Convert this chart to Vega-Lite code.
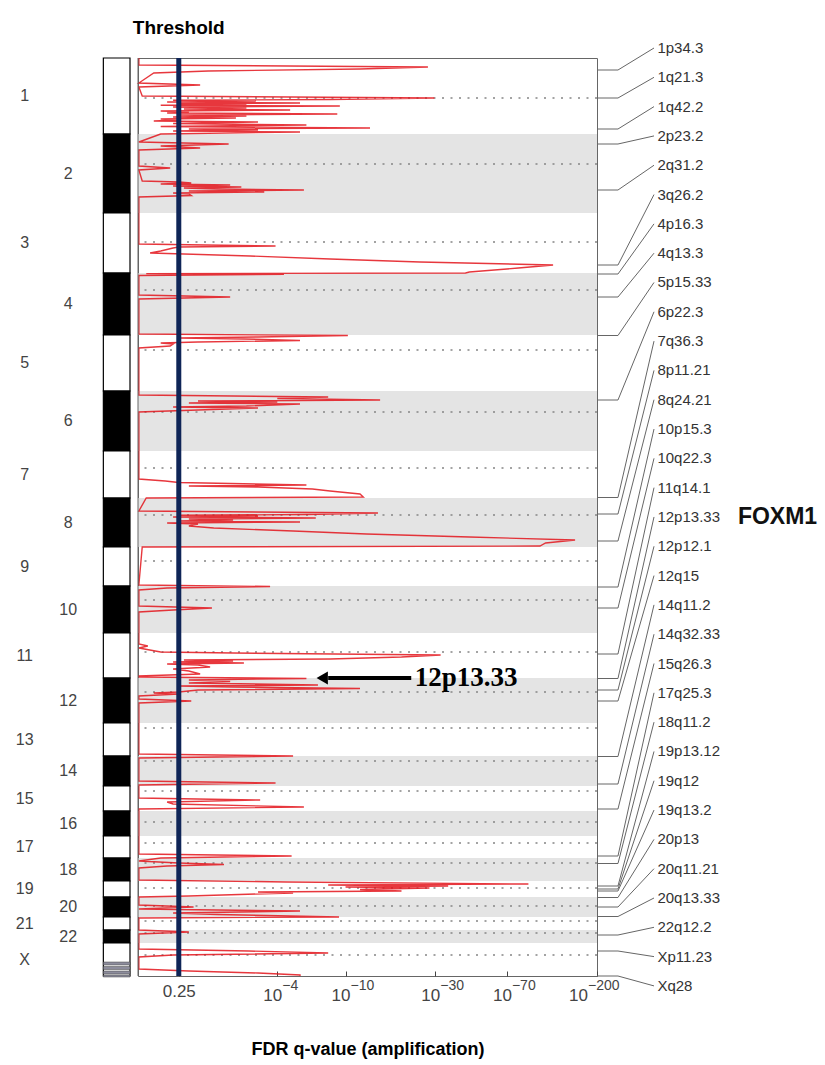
{
  "$schema": "https://vega.github.io/schema/vega-lite/v6.json",
  "padding": {"left": 0, "top": 18, "right": 0, "bottom": 0},
  "config": {"view": {"stroke": null}, "font": "Liberation Sans"},
  "datasets": {
    "chroms": [
      {"chr": "1", "idx": 1, "start": 0, "end": 76, "cen": 40},
      {"chr": "2", "idx": 2, "start": 76, "end": 155, "cen": 106},
      {"chr": "3", "idx": 3, "start": 155, "end": 215, "cen": 184},
      {"chr": "4", "idx": 4, "start": 215, "end": 277, "cen": 232},
      {"chr": "5", "idx": 5, "start": 277, "end": 333, "cen": 292},
      {"chr": "6", "idx": 6, "start": 333, "end": 393, "cen": 354},
      {"chr": "7", "idx": 7, "start": 393, "end": 440, "cen": 410},
      {"chr": "8", "idx": 8, "start": 440, "end": 489, "cen": 457},
      {"chr": "9", "idx": 9, "start": 489, "end": 528, "cen": 503},
      {"chr": "10", "idx": 10, "start": 528, "end": 575, "cen": 542},
      {"chr": "11", "idx": 11, "start": 575, "end": 620, "cen": 594},
      {"chr": "12", "idx": 12, "start": 620, "end": 665, "cen": 634},
      {"chr": "13", "idx": 13, "start": 665, "end": 698, "cen": 670},
      {"chr": "14", "idx": 14, "start": 698, "end": 728, "cen": 703},
      {"chr": "15", "idx": 15, "start": 728, "end": 753, "cen": 733},
      {"chr": "16", "idx": 16, "start": 753, "end": 778, "cen": 764},
      {"chr": "17", "idx": 17, "start": 778, "end": 800, "cen": 785},
      {"chr": "18", "idx": 18, "start": 800, "end": 823, "cen": 805},
      {"chr": "19", "idx": 19, "start": 823, "end": 839, "cen": 830},
      {"chr": "20", "idx": 20, "start": 839, "end": 859, "cen": 848},
      {"chr": "21", "idx": 21, "start": 859, "end": 872, "cen": 863},
      {"chr": "22", "idx": 22, "start": 872, "end": 885, "cen": 875},
      {"chr": "X", "idx": 23, "start": 885, "end": 918, "cen": 897}
    ],
    "xstripes": [
      {"s": 904, "e": 907}, {"s": 908.5, "e": 911.5}, {"s": 913, "e": 916}, {"s": 917, "e": 919}
    ],
    "powers": [
      {"v": 4, "exp": "\u22124"},
      {"v": 10, "exp": "\u221210"},
      {"v": 30, "exp": "\u221230"},
      {"v": 70, "exp": "\u221270"},
      {"v": 200, "exp": "\u2212200"}
    ],
    "peaks": [
      {"peak": "1p34.3", "gpos": 12},
      {"peak": "1q21.3", "gpos": 40},
      {"peak": "1q42.2", "gpos": 71},
      {"peak": "2p23.2", "gpos": 86},
      {"peak": "2q31.2", "gpos": 132},
      {"peak": "3q26.2", "gpos": 207},
      {"peak": "4p16.3", "gpos": 216},
      {"peak": "4q13.3", "gpos": 239},
      {"peak": "5p15.33", "gpos": 277.5},
      {"peak": "6p22.3", "gpos": 342},
      {"peak": "7q36.3", "gpos": 439.5},
      {"peak": "8p11.21", "gpos": 456},
      {"peak": "8q24.21", "gpos": 483},
      {"peak": "10p15.3", "gpos": 529},
      {"peak": "10q22.3", "gpos": 550},
      {"peak": "11q14.1", "gpos": 596},
      {"peak": "12p13.33", "gpos": 620.5, "gene": "FOXM1"},
      {"peak": "12p12.1", "gpos": 632},
      {"peak": "12q15", "gpos": 643},
      {"peak": "14q11.2", "gpos": 698.5},
      {"peak": "14q32.33", "gpos": 726},
      {"peak": "15q26.3", "gpos": 751},
      {"peak": "17q25.3", "gpos": 798},
      {"peak": "18q11.2", "gpos": 805.5},
      {"peak": "19p13.12", "gpos": 828},
      {"peak": "19q12", "gpos": 831},
      {"peak": "19q13.2", "gpos": 833},
      {"peak": "20p13", "gpos": 839.5},
      {"peak": "20q11.21", "gpos": 849},
      {"peak": "20q13.33", "gpos": 858.5},
      {"peak": "22q12.2", "gpos": 877},
      {"peak": "Xp11.23", "gpos": 893},
      {"peak": "Xq28", "gpos": 918}
    ],
    "trace": [
      {"gpos": 0, "q": 0.01},
      {"gpos": 7, "q": 0.01}, {"gpos": 9, "q": 27.5}, {"gpos": 11, "q": 12}, {"gpos": 13, "q": 1.25}, {"gpos": 15, "q": 0.2},
      {"gpos": 25, "q": 0.01}, {"gpos": 27, "q": 1.05}, {"gpos": 29, "q": 0.01},
      {"gpos": 38, "q": 0.05}, {"gpos": 40, "q": 29.7}, {"gpos": 41.5, "q": 8.2}, {"gpos": 42.2, "q": 0.5}, {"gpos": 43, "q": 2.9}, {"gpos": 44, "q": 0.4}, {"gpos": 45, "q": 5.5}, {"gpos": 45.8, "q": 0.6}, {"gpos": 46.5, "q": 2.5}, {"gpos": 47.2, "q": 0.3}, {"gpos": 48, "q": 9.3}, {"gpos": 49, "q": 0.5}, {"gpos": 50, "q": 2.5}, {"gpos": 51, "q": 0.7}, {"gpos": 52, "q": 4.8}, {"gpos": 53, "q": 0.3}, {"gpos": 54, "q": 0.8}, {"gpos": 55, "q": 0.4}, {"gpos": 56, "q": 9.0}, {"gpos": 57, "q": 0.6}, {"gpos": 58, "q": 2.5}, {"gpos": 59, "q": 0.5}, {"gpos": 60, "q": 2.1}, {"gpos": 61, "q": 0.3}, {"gpos": 62, "q": 0.6}, {"gpos": 63, "q": 0.2}, {"gpos": 64, "q": 3.0}, {"gpos": 65.5, "q": 0.5}, {"gpos": 67, "q": 6.0}, {"gpos": 68.5, "q": 0.3}, {"gpos": 70, "q": 13.6}, {"gpos": 71, "q": 0.8}, {"gpos": 72, "q": 3.0}, {"gpos": 73, "q": 0.5}, {"gpos": 74, "q": 5.5}, {"gpos": 76, "q": 0.3},
      {"gpos": 84, "q": 0.01}, {"gpos": 86, "q": 1.85}, {"gpos": 88, "q": 0.3}, {"gpos": 90, "q": 1.05}, {"gpos": 92, "q": 0.01},
      {"gpos": 108, "q": 0.01}, {"gpos": 110, "q": 0.45}, {"gpos": 112, "q": 0.01},
      {"gpos": 123, "q": 0.05}, {"gpos": 124, "q": 0.6}, {"gpos": 125, "q": 0.85}, {"gpos": 126, "q": 0.3}, {"gpos": 127, "q": 1.9}, {"gpos": 128, "q": 0.5}, {"gpos": 129, "q": 2.3}, {"gpos": 130, "q": 0.7}, {"gpos": 131, "q": 1.5}, {"gpos": 132, "q": 5.8}, {"gpos": 133, "q": 0.8}, {"gpos": 134, "q": 3.3}, {"gpos": 135, "q": 0.5}, {"gpos": 136, "q": 0.8}, {"gpos": 137.5, "q": 0.85}, {"gpos": 139, "q": 0.01},
      {"gpos": 186, "q": 0.01}, {"gpos": 188, "q": 3.9}, {"gpos": 189, "q": 0.6}, {"gpos": 190, "q": 0.5}, {"gpos": 193, "q": 0.3}, {"gpos": 195, "q": 0.15}, {"gpos": 198, "q": 2.65}, {"gpos": 201, "q": 8.2}, {"gpos": 204, "q": 25}, {"gpos": 207, "q": 120}, {"gpos": 210, "q": 80}, {"gpos": 214, "q": 45}, {"gpos": 215, "q": 43},
      {"gpos": 215.6, "q": 0.1}, {"gpos": 216.2, "q": 4.4}, {"gpos": 217.5, "q": 0.01},
      {"gpos": 237, "q": 0.01}, {"gpos": 239, "q": 1.9}, {"gpos": 241, "q": 0.01},
      {"gpos": 276, "q": 0.01}, {"gpos": 277.5, "q": 10.3}, {"gpos": 279, "q": 3.0}, {"gpos": 280, "q": 0.6}, {"gpos": 281, "q": 2.4}, {"gpos": 282.5, "q": 5.5}, {"gpos": 284, "q": 1.0}, {"gpos": 285, "q": 0.3}, {"gpos": 286, "q": 0.5}, {"gpos": 288, "q": 0.45}, {"gpos": 290, "q": 0.01},
      {"gpos": 337, "q": 0.01}, {"gpos": 339, "q": 8.0}, {"gpos": 340.5, "q": 4.0}, {"gpos": 342, "q": 15.4}, {"gpos": 343, "q": 1.0}, {"gpos": 344, "q": 4.0}, {"gpos": 345, "q": 0.8}, {"gpos": 346, "q": 5.5}, {"gpos": 348, "q": 2.5}, {"gpos": 349, "q": 0.5}, {"gpos": 350, "q": 3.0}, {"gpos": 352, "q": 1.0}, {"gpos": 354, "q": 0.01},
      {"gpos": 421, "q": 0.01}, {"gpos": 423, "q": 0.37}, {"gpos": 424.5, "q": 0.6}, {"gpos": 427, "q": 6.0}, {"gpos": 428, "q": 0.8}, {"gpos": 429, "q": 3.0}, {"gpos": 431, "q": 6.5}, {"gpos": 433, "q": 8.2}, {"gpos": 436, "q": 12}, {"gpos": 439, "q": 12.5}, {"gpos": 440, "q": 0.1},
      {"gpos": 453, "q": 0.01}, {"gpos": 455, "q": 15.0}, {"gpos": 456.5, "q": 6.0}, {"gpos": 457.3, "q": 0.6}, {"gpos": 458, "q": 3.0}, {"gpos": 459, "q": 0.5}, {"gpos": 460, "q": 6.8}, {"gpos": 461, "q": 0.8}, {"gpos": 462, "q": 2.0}, {"gpos": 463, "q": 0.6}, {"gpos": 464, "q": 5.5}, {"gpos": 465, "q": 0.4}, {"gpos": 466, "q": 1.0}, {"gpos": 468, "q": 0.8}, {"gpos": 470, "q": 1.4}, {"gpos": 473, "q": 5.0}, {"gpos": 476, "q": 13}, {"gpos": 479, "q": 45}, {"gpos": 482, "q": 155}, {"gpos": 485, "q": 110}, {"gpos": 488, "q": 103}, {"gpos": 489, "q": 0.05},
      {"gpos": 527, "q": 0.01}, {"gpos": 528.5, "q": 3.6}, {"gpos": 530, "q": 0.4}, {"gpos": 532, "q": 0.01},
      {"gpos": 548, "q": 0.01}, {"gpos": 550, "q": 1.35}, {"gpos": 552, "q": 0.5}, {"gpos": 554, "q": 0.01},
      {"gpos": 586, "q": 0.01}, {"gpos": 588, "q": 0.12}, {"gpos": 590, "q": 0.01}, {"gpos": 594, "q": 0.3}, {"gpos": 595, "q": 2.0}, {"gpos": 597, "q": 32}, {"gpos": 599, "q": 20}, {"gpos": 601, "q": 8.2}, {"gpos": 602, "q": 0.7}, {"gpos": 603, "q": 2.0}, {"gpos": 604, "q": 0.5}, {"gpos": 605, "q": 2.4}, {"gpos": 606, "q": 0.4}, {"gpos": 607, "q": 1.0}, {"gpos": 609, "q": 1.3}, {"gpos": 611, "q": 0.5}, {"gpos": 613, "q": 0.8}, {"gpos": 616, "q": 1.05}, {"gpos": 618, "q": 0.01},
      {"gpos": 619, "q": 0.01}, {"gpos": 620.5, "q": 6.0}, {"gpos": 622, "q": 0.8}, {"gpos": 623.5, "q": 1.9}, {"gpos": 625, "q": 0.8}, {"gpos": 627, "q": 7.0}, {"gpos": 628, "q": 0.6}, {"gpos": 629, "q": 2.0}, {"gpos": 630.5, "q": 12}, {"gpos": 632, "q": 1.0}, {"gpos": 634, "q": 0.6}, {"gpos": 635, "q": 0.2}, {"gpos": 636, "q": 0.6}, {"gpos": 638, "q": 0.01}, {"gpos": 641, "q": 0.01}, {"gpos": 643, "q": 0.85}, {"gpos": 645, "q": 0.01},
      {"gpos": 696, "q": 0.01}, {"gpos": 698, "q": 5.0}, {"gpos": 700, "q": 0.01}, {"gpos": 723, "q": 0.01}, {"gpos": 725, "q": 3.9}, {"gpos": 727, "q": 0.01},
      {"gpos": 740, "q": 0.01}, {"gpos": 742, "q": 3.1}, {"gpos": 744, "q": 0.4}, {"gpos": 746, "q": 0.5}, {"gpos": 749, "q": 5.8}, {"gpos": 751, "q": 0.01},
      {"gpos": 796, "q": 0.01}, {"gpos": 798, "q": 4.9}, {"gpos": 800, "q": 0.3},
      {"gpos": 803, "q": 0.01}, {"gpos": 805, "q": 0.6}, {"gpos": 806.5, "q": 1.7}, {"gpos": 808, "q": 0.4}, {"gpos": 810, "q": 0.01},
      {"gpos": 822, "q": 0.01}, {"gpos": 824, "q": 4.6}, {"gpos": 826, "q": 90}, {"gpos": 827, "q": 8}, {"gpos": 828, "q": 35}, {"gpos": 829, "q": 10}, {"gpos": 830, "q": 28}, {"gpos": 831.5, "q": 12}, {"gpos": 833, "q": 20}, {"gpos": 834, "q": 3}, {"gpos": 835, "q": 5.0}, {"gpos": 838, "q": 0.8}, {"gpos": 839, "q": 0.01},
      {"gpos": 847, "q": 0.01}, {"gpos": 849, "q": 0.9}, {"gpos": 851, "q": 0.01}, {"gpos": 853, "q": 5.5}, {"gpos": 855, "q": 0.5}, {"gpos": 856.5, "q": 1.5}, {"gpos": 859, "q": 9.2}, {"gpos": 860, "q": 0.01},
      {"gpos": 872, "q": 0.01}, {"gpos": 874, "q": 0.8}, {"gpos": 876, "q": 0.01},
      {"gpos": 891, "q": 0.01}, {"gpos": 893, "q": 2.6}, {"gpos": 895, "q": 8.0}, {"gpos": 897, "q": 0.5}, {"gpos": 899, "q": 0.01},
      {"gpos": 911, "q": 0.01}, {"gpos": 913, "q": 0.8}, {"gpos": 915, "q": 3.0}, {"gpos": 917, "q": 5.5}, {"gpos": 918, "q": 5.5}
    ]
  },
  "hconcat": [
    {
      "width": 130,
      "height": 918,
      "layer": [
        {
          "data": {"name": "chroms"},
          "mark": {"type": "rect", "stroke": "#000", "strokeWidth": 1.2},
          "encoding": {
            "x": {"datum": 0.795, "type": "quantitative", "scale": {"domain": [0, 1], "nice": false, "zero": false}, "axis": null},
            "x2": {"datum": 1},
            "y": {"field": "start", "type": "quantitative", "scale": {"domain": [0, 918], "reverse": true, "nice": false, "zero": false}, "axis": null},
            "y2": {"field": "end"},
            "fill": {"condition": {"test": "datum.idx % 2 == 0", "value": "#000"}, "value": "#fff"}
          }
        },
        {
          "data": {"name": "xstripes"},
          "mark": {"type": "rect", "fill": "#8c8c9c", "stroke": "#444", "strokeWidth": 0.5},
          "encoding": {
            "x": {"datum": 0.795, "type": "quantitative"},
            "x2": {"datum": 1},
            "y": {"field": "s", "type": "quantitative"},
            "y2": {"field": "e"}
          }
        },
        {
          "data": {"name": "chroms"},
          "transform": [
            {"calculate": "(datum.start + datum.end) / 2", "as": "mid"},
            {"calculate": "datum.idx % 2 == 0 ? 0.525 : 0.19", "as": "col"}
          ],
          "mark": {"type": "text", "fontSize": 16, "color": "#444", "align": "center", "baseline": "middle"},
          "encoding": {
            "x": {"field": "col", "type": "quantitative"},
            "y": {"field": "mid", "type": "quantitative"},
            "text": {"field": "chr"}
          }
        }
      ]
    },
    {
      "hconcat": [
        {
          "width": 459,
          "height": 918,
          "view": {"stroke": "#666", "strokeWidth": 1},
          "layer": [
            {
              "data": {"name": "chroms"},
              "transform": [{"filter": "datum.idx % 2 == 0"}],
              "mark": {"type": "rect", "fill": "#e4e4e4"},
              "encoding": {
                "x": {"datum": 0, "type": "quantitative"},
                "x2": {"datum": 200},
                "y": {"field": "start", "type": "quantitative", "scale": {"domain": [0, 918], "reverse": true, "nice": false, "zero": false}, "axis": null},
                "y2": {"field": "end"}
              }
            },
            {
              "data": {"name": "chroms"},
              "mark": {"type": "rule", "color": "#858585", "strokeDash": [2, 6.5], "strokeWidth": 1.7},
              "encoding": {"y": {"field": "cen", "type": "quantitative"}}
            },
            {
              "data": {"name": "trace"},
              "mark": {"type": "line", "color": "#e3141b", "strokeWidth": 1.4, "opacity": 0.85},
              "encoding": {
                "x": {
                  "field": "q", "type": "quantitative",
                  "scale": {"type": "symlog", "constant": 1, "domain": [0, 200], "nice": false, "zero": false},
                  "axis": {
                    "values": [0.602, 4, 10, 30, 70, 200],
                    "labelExpr": "datum.value < 1 ? '0.25' : ''",
                    "title": "FDR q-value (amplification)",
                    "titleFontSize": 18, "titleFontWeight": "bold", "titleColor": "#000", "titlePadding": 41,
                    "labelFontSize": 17, "labelColor": "#444", "labelPadding": 12, "labelFlush": false, "labelOverlap": false,
                    "grid": false, "domain": false, "tickSize": -5, "tickColor": "#444"
                  }
                },
                "y": {"field": "gpos", "type": "quantitative"},
                "order": {"field": "gpos"}
              }
            },
            {
              "data": {"values": [{}]},
              "mark": {"type": "rule", "color": "#666", "strokeWidth": 1},
              "encoding": {"x": {"datum": 0, "type": "quantitative"}}
            },
            {
              "data": {"values": [{}]},
              "mark": {"type": "rule", "color": "#0f2557", "strokeWidth": 5},
              "encoding": {"x": {"datum": 0.602, "type": "quantitative"}}
            },
            {
              "data": {"values": [{}]},
              "mark": {"type": "text", "text": "Threshold", "fontWeight": "bold", "fontSize": 19, "color": "#000", "baseline": "middle"},
              "encoding": {"x": {"datum": 0.602, "type": "quantitative"}, "y": {"datum": -30, "type": "quantitative"}}
            },
            {
              "data": {"name": "powers"},
              "transform": [{"filter": "datum.v < 200"}],
              "mark": {"type": "text", "text": "10", "fontSize": 17, "color": "#444", "align": "right", "baseline": "middle", "dx": 5, "dy": 20},
              "encoding": {"x": {"field": "v", "type": "quantitative"}, "y": {"datum": 918, "type": "quantitative"}}
            },
            {
              "data": {"name": "powers"},
              "transform": [{"filter": "datum.v < 200"}],
              "mark": {"type": "text", "fontSize": 14, "color": "#444", "align": "left", "baseline": "middle", "dx": 5, "dy": 10},
              "encoding": {"x": {"field": "v", "type": "quantitative"}, "y": {"datum": 918, "type": "quantitative"}, "text": {"field": "exp"}}
            },
            {
              "data": {"name": "powers"},
              "transform": [{"filter": "datum.v == 200"}],
              "mark": {"type": "text", "text": "10", "fontSize": 17, "color": "#444", "align": "right", "baseline": "middle", "dx": -9, "dy": 20},
              "encoding": {"x": {"field": "v", "type": "quantitative"}, "y": {"datum": 918, "type": "quantitative"}}
            },
            {
              "data": {"name": "powers"},
              "transform": [{"filter": "datum.v == 200"}],
              "mark": {"type": "text", "fontSize": 14, "color": "#444", "align": "left", "baseline": "middle", "dx": -9, "dy": 10},
              "encoding": {"x": {"field": "v", "type": "quantitative"}, "y": {"datum": 918, "type": "quantitative"}, "text": {"field": "exp"}}
            },
            {
              "data": {"values": [{}]},
              "mark": {"type": "rule", "color": "#000", "strokeWidth": 4},
              "encoding": {"x": {"datum": 8, "type": "quantitative"}, "x2": {"datum": 22.5}, "y": {"datum": 620, "type": "quantitative"}}
            },
            {
              "data": {"values": [{}]},
              "mark": {"type": "point", "shape": "triangle-left", "filled": true, "size": 170, "color": "#000", "opacity": 1},
              "encoding": {"x": {"datum": 7.4, "type": "quantitative"}, "y": {"datum": 620, "type": "quantitative"}}
            },
            {
              "data": {"values": [{}]},
              "mark": {"type": "text", "text": "12p13.33", "font": "Liberation Serif", "fontWeight": "bold", "fontSize": 27, "color": "#000", "align": "left", "baseline": "middle"},
              "encoding": {"x": {"datum": 23.5, "type": "quantitative"}, "y": {"datum": 620, "type": "quantitative"}}
            }
          ]
        },
        {
          "width": 228,
          "height": 918,
          "data": {"name": "peaks"},
          "transform": [
            {"window": [{"op": "row_number", "as": "rank"}]},
            {"calculate": "-10 + 29.31 * (datum.rank - 1)", "as": "labelpos"}
          ],
          "layer": [
            {
              "mark": {"type": "rule", "color": "#666", "strokeWidth": 1},
              "encoding": {
                "x": {"datum": 0, "type": "quantitative", "scale": {"domain": [0, 1], "nice": false, "zero": false}, "axis": null},
                "x2": {"datum": 0.092},
                "y": {"field": "gpos", "type": "quantitative", "scale": {"domain": [0, 918], "reverse": true, "nice": false, "zero": false}, "axis": null}
              }
            },
            {
              "mark": {"type": "rule", "color": "#666", "strokeWidth": 1},
              "encoding": {
                "x": {"datum": 0.092, "type": "quantitative"},
                "x2": {"datum": 0.25},
                "y": {"field": "gpos", "type": "quantitative"},
                "y2": {"field": "labelpos"}
              }
            },
            {
              "mark": {"type": "text", "align": "left", "baseline": "middle", "fontSize": 15, "color": "#333"},
              "encoding": {
                "x": {"datum": 0.265, "type": "quantitative"},
                "y": {"field": "labelpos", "type": "quantitative"},
                "text": {"field": "peak"}
              }
            },
            {
              "transform": [{"filter": "datum.gene"}],
              "mark": {"type": "text", "align": "left", "baseline": "middle", "fontSize": 23, "fontWeight": "bold", "color": "#111"},
              "encoding": {
                "x": {"datum": 0.618, "type": "quantitative"},
                "y": {"field": "labelpos", "type": "quantitative"},
                "text": {"field": "gene"}
              }
            }
          ]
        }
      ],
      "spacing": 0,
      "bounds": "flush"
    }
  ],
  "spacing": 8,
  "bounds": "flush"
}
